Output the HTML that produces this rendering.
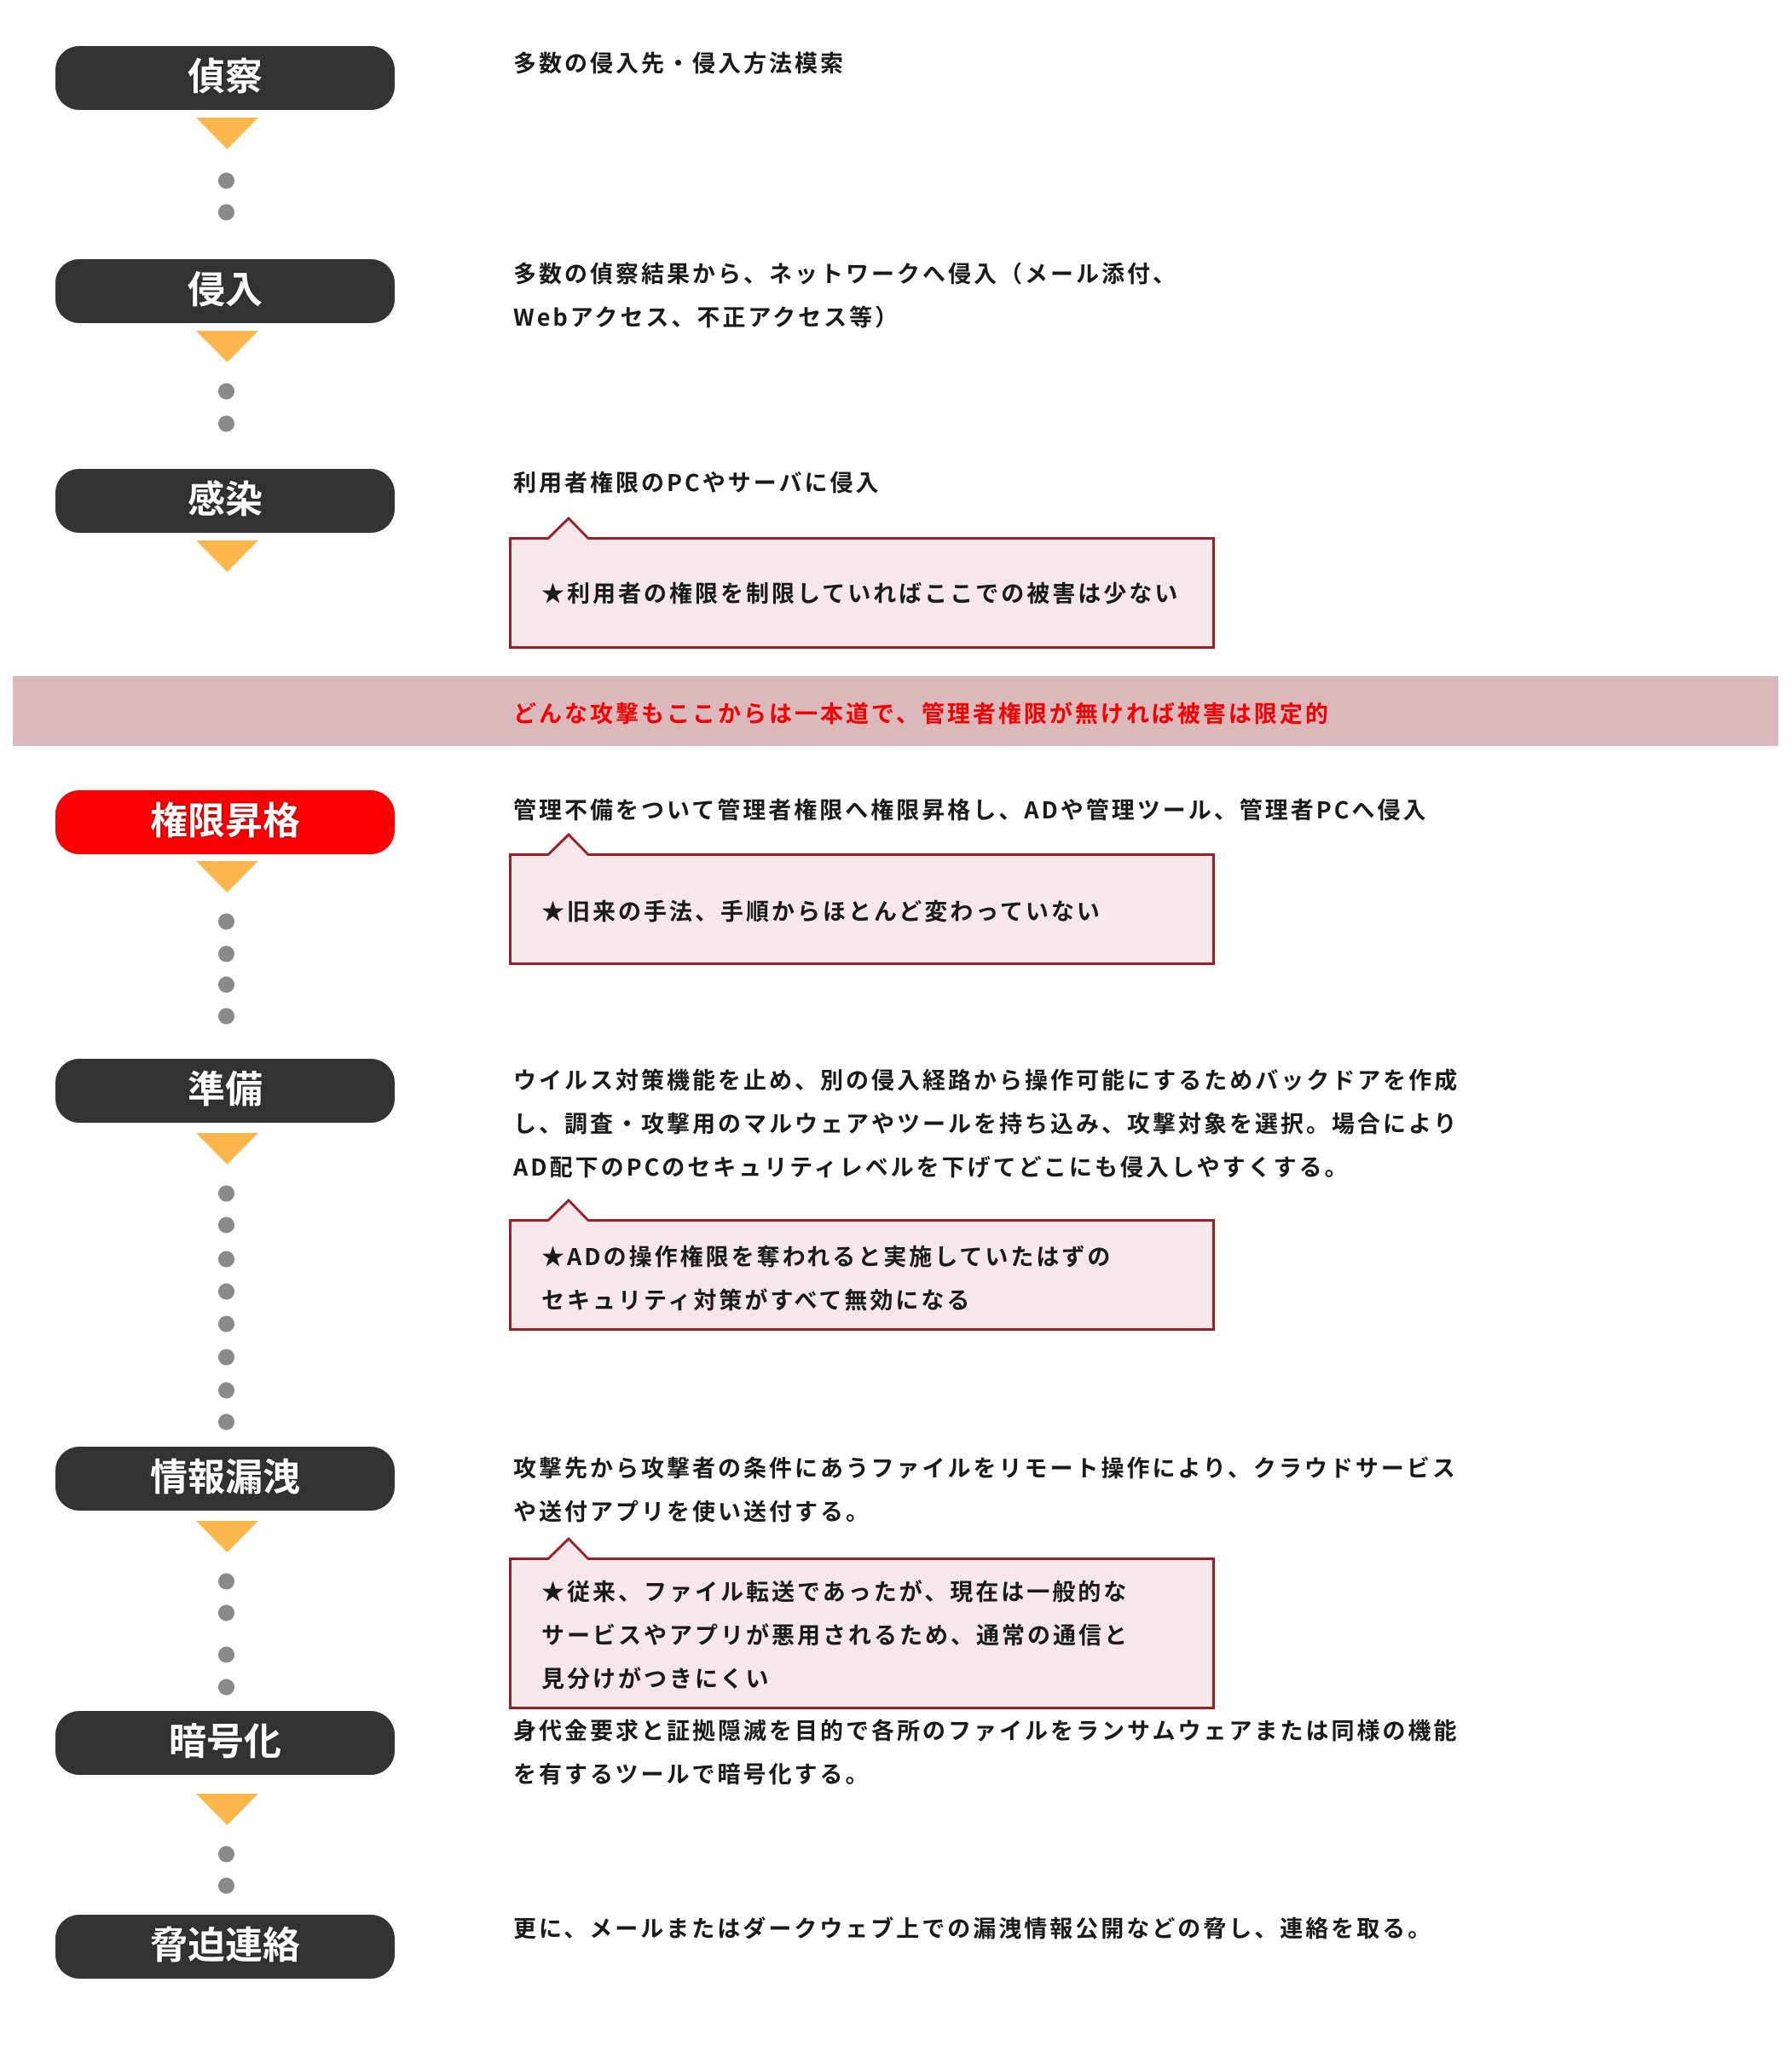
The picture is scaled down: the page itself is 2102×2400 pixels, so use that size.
<!DOCTYPE html>
<html lang="ja">
<head>
<meta charset="utf-8">
<style>
  html, body { margin: 0; padding: 0; background: #ffffff; }
  body { width: 2102px; height: 2400px; position: relative; overflow: hidden; }
  svg.bg { position: absolute; left: 0; top: 0; }
  .band { position: absolute; left: 15px; top: 793px; width: 2071px; height: 82px; background: #dbb8bc; }
  .pill { position: absolute; left: 65px; width: 398px; height: 75px; border-radius: 28px; background: #333333; color: #ffffff;
          font-family: "Noto Sans CJK JP", "Liberation Sans", sans-serif; font-weight: 700; font-size: 44px; line-height: 65px;
          text-align: center; white-space: nowrap; text-shadow: 0 0 2px rgba(0,0,0,0.6); }
  .pill.red { background: #fb0000; }
  .t { position: absolute; left: 602px; font-family: "Noto Sans CJK JP", "Liberation Sans", sans-serif; font-weight: 700;
       font-size: 27px; line-height: 51px; letter-spacing: 3px; white-space: nowrap; color: #1a1a1a; }
  .t.c { left: 635px; }
  .t.r { color: #f40000; }
</style>
</head>
<body>
<div class="band"></div>
<svg class="bg" width="2102" height="2400" viewBox="0 0 2102 2400" xmlns="http://www.w3.org/2000/svg">
  <g fill="#fdb64b">
    <polygon points="230,138 303,138 266.5,175"/>
    <polygon points="230,388 303,388 266.5,425"/>
    <polygon points="230,634 303,634 266.5,671"/>
    <polygon points="230,1010 303,1010 266.5,1047"/>
    <polygon points="230,1329 303,1329 266.5,1366"/>
    <polygon points="230,1784 303,1784 266.5,1821"/>
    <polygon points="230,2104 303,2104 266.5,2141"/>
  </g>
  <g fill="#8a8a8a">
    <circle cx="265.5" cy="212" r="9.5"/>
    <circle cx="265.5" cy="249" r="9.5"/>
    <circle cx="265.5" cy="459" r="9.5"/>
    <circle cx="265.5" cy="497" r="9.5"/>
    <circle cx="265.5" cy="1081" r="9.5"/>
    <circle cx="265.5" cy="1119" r="9.5"/>
    <circle cx="265.5" cy="1155" r="9.5"/>
    <circle cx="265.5" cy="1192" r="9.5"/>
    <circle cx="265.5" cy="1400" r="9.5"/>
    <circle cx="265.5" cy="1437" r="9.5"/>
    <circle cx="265.5" cy="1477" r="9.5"/>
    <circle cx="265.5" cy="1515" r="9.5"/>
    <circle cx="265.5" cy="1553" r="9.5"/>
    <circle cx="265.5" cy="1592" r="9.5"/>
    <circle cx="265.5" cy="1631" r="9.5"/>
    <circle cx="265.5" cy="1668" r="9.5"/>
    <circle cx="265.5" cy="1855" r="9.5"/>
    <circle cx="265.5" cy="1892" r="9.5"/>
    <circle cx="265.5" cy="1941" r="9.5"/>
    <circle cx="265.5" cy="1979" r="9.5"/>
    <circle cx="265.5" cy="2175" r="9.5"/>
    <circle cx="265.5" cy="2212" r="9.5"/>
  </g>
  <g fill="#f6e8ea" stroke="#9e1c24" stroke-width="3" stroke-linejoin="miter">
    <path d="M598.5,631.5 H643 L667,608 L690,631.5 H1423.5 V759.5 H598.5 Z"/>
    <path d="M598.5,1002.5 H643 L667,979 L690,1002.5 H1423.5 V1130.5 H598.5 Z"/>
    <path d="M598.5,1431.5 H643 L667,1408 L690,1431.5 H1423.5 V1559.5 H598.5 Z"/>
    <path d="M598.5,1828.5 H643 L667,1805 L690,1828.5 H1423.5 V2003.5 H598.5 Z"/>
  </g>
</svg>

<div class="pill" style="top:54px;">偵察</div>
<div class="pill" style="top:304px;">侵入</div>
<div class="pill" style="top:550px;">感染</div>
<div class="pill red" style="top:927px;">権限昇格</div>
<div class="pill" style="top:1242px;">準備</div>
<div class="pill" style="top:1697px;">情報漏洩</div>
<div class="pill" style="top:2007px;">暗号化</div>
<div class="pill" style="top:2246px;">脅迫連絡</div>

<div class="t" style="top:47px;">多数の侵入先・侵入方法模索</div>
<div class="t" style="top:294px;">多数の偵察結果から、ネットワークへ侵入（メール添付、<br>Webアクセス、不正アクセス等）</div>
<div class="t" style="top:539px;">利用者権限のPCやサーバに侵入</div>
<div class="t c" style="top:669px;">★利用者の権限を制限していればここでの被害は少ない</div>
<div class="t r" style="top:810px;">どんな攻撃もここからは一本道で、管理者権限が無ければ被害は限定的</div>
<div class="t" style="top:923px;">管理不備をついて管理者権限へ権限昇格し、ADや管理ツール、管理者PCへ侵入</div>
<div class="t c" style="top:1042px;">★旧来の手法、手順からほとんど変わっていない</div>
<div class="t" style="top:1240px;">ウイルス対策機能を止め、別の侵入経路から操作可能にするためバックドアを作成<br>し、調査・攻撃用のマルウェアやツールを持ち込み、攻撃対象を選択。場合により<br>AD配下のPCのセキュリティレベルを下げてどこにも侵入しやすくする。</div>
<div class="t c" style="top:1447px;">★ADの操作権限を奪われると実施していたはずの<br>セキュリティ対策がすべて無効になる</div>
<div class="t" style="top:1695px;">攻撃先から攻撃者の条件にあうファイルをリモート操作により、クラウドサービス<br>や送付アプリを使い送付する。</div>
<div class="t c" style="top:1840px;">★従来、ファイル転送であったが、現在は一般的な<br>サービスやアプリが悪用されるため、通常の通信と<br>見分けがつきにくい</div>
<div class="t" style="top:2003px;">身代金要求と証拠隠滅を目的で各所のファイルをランサムウェアまたは同様の機能<br>を有するツールで暗号化する。</div>
<div class="t" style="top:2235px;">更に、メールまたはダークウェブ上での漏洩情報公開などの脅し、連絡を取る。</div>
</body>
</html>
